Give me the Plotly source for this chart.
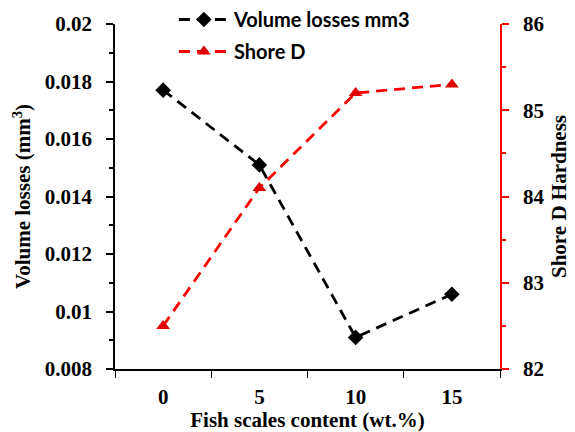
import plotly.graph_objects as go

categories = ["0", "5", "10", "15"]
volume_losses = [0.0177, 0.0151, 0.0091, 0.0106]
shore_d = [82.5, 84.1, 85.2, 85.3]
vl_ticks = [0.008, 0.01, 0.012, 0.014, 0.016, 0.018, 0.02]
vl_labels = ["0.008", "0.01", "0.012", "0.014", "0.016", "0.018", "0.02"]
sd_ticks = [82, 83, 84, 85, 86]
sd_labels = ["82", "83", "84", "85", "86"]

serif = "Liberation Serif"
fig = go.Figure()
fig.add_trace(go.Scatter(
    x=categories, y=volume_losses, name="Volume losses mm3",
    mode="lines+markers", legendgroup="a",
    line=dict(color="black", dash="11px,7px", width=2.8),
    marker=dict(symbol="diamond", size=12, color="black"),
))
fig.add_trace(go.Scatter(
    x=categories, y=shore_d, name="Shore D", yaxis="y2",
    mode="lines+markers", legendgroup="b",
    line=dict(color="#ff0000", dash="11px,7px", width=2.8),
    marker=dict(symbol="triangle-up", size=12, color="#e00000"),
))

tickfont = dict(family=serif, size=21, color="black", weight="bold")
titlefont = dict(family=serif, size=21, color="black", weight="bold")

fig.update_layout(
    template="none",
    width=575, height=432,
    margin=dict(l=115, r=75, t=24, b=63, autoexpand=False),
    paper_bgcolor="white", plot_bgcolor="white",
    font=dict(family=serif, color="black"),
    showlegend=True,
    legend=dict(x=0.153, y=1, yref="container", xanchor="left", yanchor="top",
                bgcolor="rgba(0,0,0,0)", traceorder="grouped", itemwidth=50,
                font=dict(family="Lato", size=20, color="black", weight="bold"),
                tracegroupgap=3),
    xaxis=dict(
        type="category", tickson="boundaries", ticks="outside", ticklen=7,
        tickcolor="black", showline=True, linecolor="black", linewidth=1.5,
        showgrid=False, range=[-0.5, 3.5], automargin=False,
        tickfont=tickfont, ticklabelstandoff=8,
        title=dict(text="Fish scales content (wt.%)", font=titlefont, standoff=2),
    ),
    yaxis=dict(
        range=[0.008, 0.02], tickvals=vl_ticks, ticktext=vl_labels,
        ticks="outside", ticklen=7, tickcolor="black", tickwidth=1.5,
        minor=dict(ticks="outside", dtick=0.001, ticklen=4, tickcolor="black"),
        showline=True, linecolor="black", linewidth=1.5, showgrid=False, zeroline=False,
        automargin=False, tickfont=tickfont, ticklabelstandoff=10,
        title=dict(text="Volume losses (mm<sup>3</sup>)", font=titlefont, standoff=8),
    ),
    yaxis2=dict(
        overlaying="y", side="right", range=[82, 86],
        tickvals=sd_ticks, ticktext=sd_labels,
        ticks="outside", ticklen=7, tickcolor="red", tickwidth=1.5,
        minor=dict(ticks="outside", dtick=0.5, ticklen=4, tickcolor="red"),
        showline=True, linecolor="red", linewidth=1.5, showgrid=False, zeroline=False,
        automargin=False, tickfont=tickfont, ticklabelstandoff=10,
        title=dict(text="Shore D Hardness", font=titlefont, standoff=8),
    ),
)

fig.write_html("out.html")
